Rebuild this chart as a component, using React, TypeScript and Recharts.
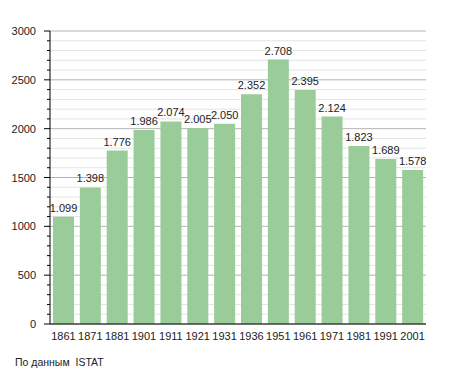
import React from 'react';
import { BarChart, Bar, XAxis, YAxis, CartesianGrid, LabelList } from 'recharts';

const YEARS = ['1861', '1871', '1881', '1901', '1911', '1921', '1931', '1936', '1951', '1961', '1971', '1981', '1991', '2001'];
const POPULATION = [1099, 1398, 1776, 1986, 2074, 2005, 2050, 2352, 2708, 2395, 2124, 1823, 1689, 1578];
const Y_TICKS = Array.from({ length: 31 }, (_, i) => i * 100);

const FONT = '"Liberation Sans", Arial, sans-serif';

const data = YEARS.map((year, i) => ({ year, value: POPULATION[i] }));

const fmt = (v: number) => {
  const s = String(v);
  return s.length > 3 ? s.slice(0, s.length - 3) + '.' + s.slice(-3) : s;
};

const YTick = (props: any) => {
  const { x, y, payload } = props;
  const major = payload.value % 500 === 0;
  return (
    <g>
      <line x1={x - (major ? 6 : 3)} x2={x} y1={y} y2={y} stroke="#000" strokeWidth={1} />
      {major && (
        <text x={x - 14} y={y} dy={4} textAnchor="end" fontSize={11} fill="#222" fontFamily={FONT}>
          {payload.value}
        </text>
      )}
    </g>
  );
};

const GridLine = (props: any) => {
  const { x1, x2, y1, y2, index } = props;
  const major = index % 5 === 0;
  return <line x1={x1} x2={x2} y1={y1} y2={y2} stroke={major ? '#b4b4b4' : '#e4e4e4'} strokeWidth={1} />;
};

export default function App() {
  return (
    <div style={{ position: 'absolute', left: 0, top: 0, width: 455, height: 373, background: '#fff' }}>
      <BarChart width={455} height={345} data={data} margin={{ top: 31, right: 29, left: 0, bottom: 1 }}>
        <CartesianGrid vertical={false} horizontal={GridLine} />
        <XAxis
          dataKey="year"
          height={20}
          tickLine={false}
          axisLine={{ stroke: '#000' }}
          interval={0}
          tick={{ fontSize: 11, fill: '#222', fontFamily: FONT }}
          tickMargin={2}
        />
        <YAxis
          width={50}
          domain={[0, 3000]}
          ticks={Y_TICKS}
          interval={0}
          tickSize={0}
          tickMargin={0}
          tickLine={false}
          axisLine={{ stroke: '#000' }}
          tick={<YTick />}
        />
        <Bar dataKey="value" fill="#99cc99" barSize={21} isAnimationActive={false}>
          <LabelList
            dataKey="value"
            position="top"
            offset={5}
            formatter={(v: any) => fmt(Number(v))}
            style={{ fontSize: 11, fill: '#222', fontFamily: FONT }}
          />
        </Bar>
      </BarChart>
      <div style={{ position: 'absolute', left: 15, top: 356, fontSize: 10.5, color: '#222', fontFamily: FONT, whiteSpace: 'pre' }}>
        {'По данным  ISTAT'}
      </div>
    </div>
  );
}
